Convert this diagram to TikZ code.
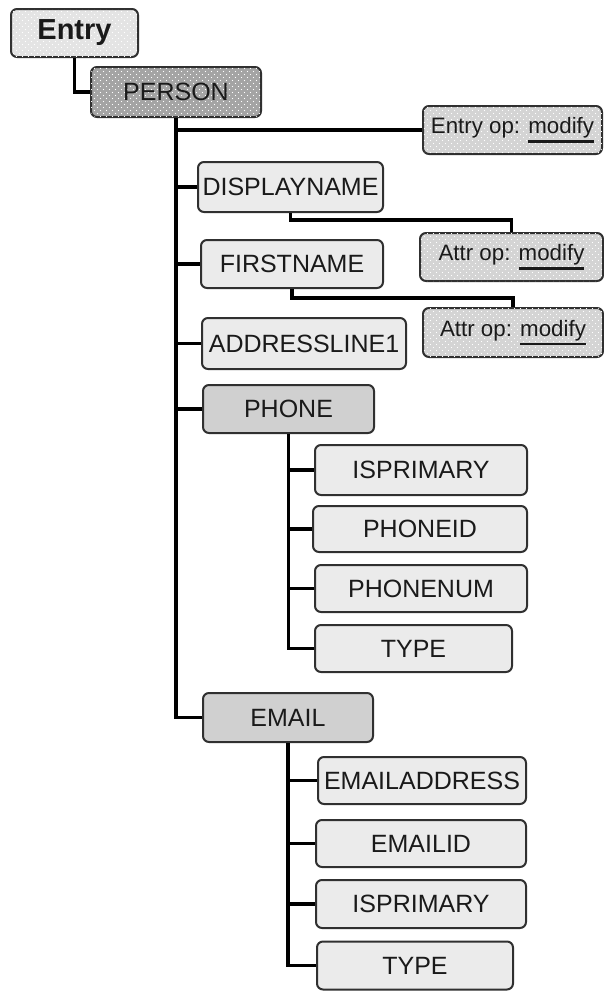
\documentclass[tikz,border=0pt]{standalone}
\usepackage{fontspec}
\setmainfont{Liberation Sans}
\usetikzlibrary{patterns.meta}

% staggered light dots used as a stipple texture
\tikzdeclarepattern{
  name=stipple,
  type=uncolored,
  bounding box={(-3pt,-3pt) and (3pt,3pt)},
  tile size={(6pt,6pt)},
  code={
    \fill (-1.5pt,-1.5pt) circle (0.6pt);
    \fill (1.5pt,1.5pt) circle (0.6pt);
  }
}

% thick underline for the operation keyword
\newcommand{\opul}[1]{\setbox0=\hbox{#1}\rlap{\rule[-9pt]{\wd0}{2.5pt}}\box0}

\definecolor{boxline}{HTML}{303030}
\definecolor{txt}{HTML}{1A1A1A}
\definecolor{leaffill}{HTML}{EBEBEB}
\definecolor{groupfill}{HTML}{D0D0D0}
\definecolor{rootfill}{HTML}{A4A4A4}
\definecolor{entryfill}{HTML}{E4E4E4}
\definecolor{opfill}{HTML}{D4D4D4}

\tikzset{
  box/.style={draw=boxline, line width=2pt, rounded corners=6pt, inner sep=0pt,
    text=txt, font=\fontsize{25}{29}\selectfont, align=center},
  leaf/.style={box, fill=leaffill},
  group/.style={box, fill=groupfill},
  stippled/.style={postaction={pattern={stipple}, pattern color=white}},
  rootbox/.style={box, fill=rootfill, stippled},
  entrybox/.style={box, fill=entryfill, stippled, font=\fontsize{29}{32}\selectfont\bfseries},
  opbox/.style={box, fill=opfill, stippled, font=\fontsize{22.3}{26}\selectfont},
  link/.style={line width=3.8pt, black}
}

\begin{document}
\begin{tikzpicture}[x=1pt, y=-1pt]
\useasboundingbox (0,0) rectangle (604,991);

% top of the tree
\node[entrybox, minimum width=127, minimum height=48] (entry) at (74.5,33) {Entry};
\node[rootbox, minimum width=170, minimum height=50] (person) at (176,92) {PERSON};
\node[opbox, minimum width=179, minimum height=48] (entryop) at (512.5,130) {Entry op: \opul{modify}};

% attributes of PERSON
\node[leaf, minimum width=185, minimum height=50] (displayname) at (290.5,187) {DISPLAYNAME};
\node[opbox, minimum width=183, minimum height=48] (attrop1) at (511.5,257) {Attr op: \opul{modify}};
\node[leaf, minimum width=182, minimum height=48] (firstname) at (292,264) {FIRSTNAME};
\node[opbox, minimum width=180, minimum height=49] (attrop2) at (513,332.5) {Attr op: \opul{modify}};
\node[leaf, minimum width=204, minimum height=51] (addressline) at (304,343.5) {ADDRESSLINE1};

% PHONE group
\node[group, minimum width=171, minimum height=48] (phone) at (288.5,409) {PHONE};
\node[leaf, minimum width=212, minimum height=50] (pprimary) at (421,470) {ISPRIMARY};
\node[leaf, minimum width=214, minimum height=46] (phoneid) at (420,529) {PHONEID};
\node[leaf, minimum width=212, minimum height=47] (phonenum) at (421,588.5) {PHONENUM};
\node[leaf, minimum width=197, minimum height=47] (ptype) at (413.5,648.5) {TYPE};

% EMAIL group
\node[group, minimum width=170, minimum height=49] (email) at (288,717.5) {EMAIL};
\node[leaf, minimum width=208, minimum height=47] (emailaddr) at (422,780.5) {EMAILADDRESS};
\node[leaf, minimum width=210, minimum height=47] (emailid) at (421,843.5) {EMAILID};
\node[leaf, minimum width=210, minimum height=48] (eprimary) at (421,904) {ISPRIMARY};
\node[leaf, minimum width=196, minimum height=48] (etype) at (415,965.5) {TYPE};

% connectors
\draw[link] (entry.south) |- (person.west);
\foreach \c in {entryop, displayname, firstname, addressline, phone, email}
  \draw[link] (person.south) |- (\c.west);
\draw[link] (displayname.south) -- ++(0,7) -| (attrop1.north);
\draw[link] (firstname.south) -- ++(0,9) -| (attrop2.north);
\foreach \c in {pprimary, phoneid, phonenum, ptype}
  \draw[link] (phone.south) |- (\c.west);
\foreach \c in {emailaddr, emailid, eprimary, etype}
  \draw[link] (email.south) |- (\c.west);
\end{tikzpicture}
\end{document}
